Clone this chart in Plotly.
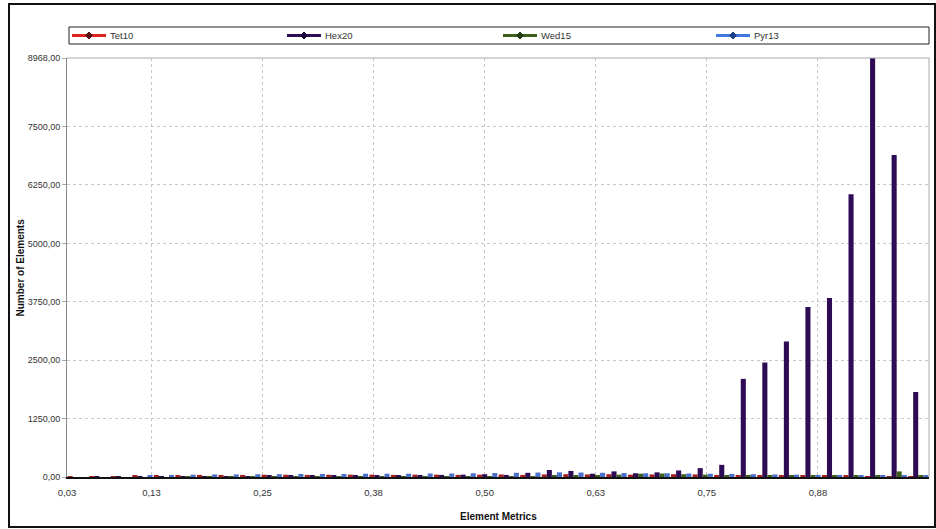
import numpy as np
import plotly.graph_objects as go

# Histogram of element quality metric, 40 bins between 0.03 and 1.00
bin_edges = np.linspace(0.03, 1.0, 41)
bin_centers = (bin_edges[:-1] + bin_edges[1:]) / 2

tet10 = [5, 8, 12, 35, 40, 42, 45, 45, 45, 48, 48, 45, 48, 50, 50, 45, 50, 50, 45, 50,
         55, 45, 55, 60, 55, 60, 50, 55, 60, 55, 45, 40, 35, 30, 25, 25, 25, 20, 20, 15]
hex20 = [0, 2, 5, 8, 10, 12, 15, 18, 20, 22, 25, 25, 28, 30, 30, 35, 40, 45, 50, 60,
         45, 90, 150, 130, 70, 120, 80, 100, 140, 190, 260, 2100, 2450, 2900, 3640, 3830,
         6050, 8968, 6890, 1820]
wed15 = [0, 0, 0, 0, 0, 2, 2, 3, 3, 5, 5, 5, 6, 8, 8, 10, 10, 12, 12, 15,
         15, 20, 25, 30, 40, 50, 70, 75, 60, 50, 40, 30, 35, 30, 25, 30, 35, 30, 120, 40]
pyr13 = [0, 0, 0, 25, 45, 50, 55, 55, 60, 60, 65, 65, 65, 70, 70, 70, 75, 75, 80, 85,
         90, 95, 100, 95, 90, 85, 80, 80, 75, 70, 65, 60, 55, 50, 45, 45, 40, 40, 35, 30]

series_names = ["Tet10", "Hex20", "Wed15", "Pyr13"]
series_values = [tet10, hex20, wed15, pyr13]
bar_colors = ["#a3201d", "#2e0b55", "#3d5f1c", "#4a70cc"]
legend_colors = ["#e0231c", "#2e0b55", "#3d5f1c", "#3f78e0"]
marker_colors = ["#5a0d10", "#1c0638", "#233a0e", "#1f3f90"]

y_ticks = [0, 1250, 2500, 3750, 5000, 6250, 7500, 8968]
y_ticktext = ["0,00", "1250,00", "2500,00", "3750,00", "5000,00", "6250,00", "7500,00", "8968,00"]
x_ticks = [0.03, 0.125, 0.25, 0.375, 0.5, 0.625, 0.75, 0.875, 1.0]
x_ticktext = ["0,03", "0,13", "0,25", "0,38", "0,50", "0,63", "0,75", "0,88", "1,00"]

W, H = 936, 529
L, R, T, B = 67, 929, 58, 477  # plot area in pixels


def px_x(p):
    return (p - L) / (R - L)


def px_y(p):
    return (B - p) / (B - T)


FONT = "Liberation Sans Narrow, Arial Narrow, Liberation Sans, Arial, sans-serif"

fig = go.Figure()
for name, vals, col in zip(series_names, series_values, bar_colors):
    fig.add_trace(go.Bar(x=bin_centers, y=vals, name=name, marker_color=col,
                         marker_line_width=0, showlegend=False))

shapes = [
    # outer frame
    dict(type="rect", xref="paper", yref="paper",
         x0=px_x(9), x1=px_x(935), y0=px_y(527), y1=px_y(4),
         line=dict(color="#111111", width=2), fillcolor="rgba(0,0,0,0)", layer="above"),
    # right and top plot border
    dict(type="line", xref="paper", yref="paper", x0=1, x1=1, y0=0, y1=1,
         line=dict(color="#aaaaaa", width=1)),
    dict(type="line", xref="paper", yref="paper", x0=0, x1=1, y0=1, y1=1,
         line=dict(color="#aaaaaa", width=1)),
    # legend box
    dict(type="rect", xref="paper", yref="paper",
         x0=px_x(69), x1=px_x(929), y0=px_y(44), y1=px_y(27),
         line=dict(color="#222222", width=1), fillcolor="white"),
]
annotations = [
    dict(text="<b>Number of Elements</b>", xref="paper", yref="paper",
         x=px_x(20), y=0.5, xanchor="center", yanchor="middle", textangle=-90, showarrow=False,
         font=dict(family=FONT, size=10, color="#111111")),
    dict(text="<b>Element Metrics</b>", xref="paper", yref="paper",
         x=px_x(498), y=px_y(516), xanchor="center", yanchor="middle", showarrow=False,
         font=dict(family=FONT, size=10, color="#111111")),
]

# legend entries: line with a diamond marker, followed by the series name
legend_x = [72, 287, 503, 716]
leg_y = 35.5
for name, col, mcol, lx in zip(series_names, legend_colors, marker_colors, legend_x):
    shapes.append(dict(type="line", xref="paper", yref="paper",
                       x0=px_x(lx), x1=px_x(lx + 34), y0=px_y(leg_y), y1=px_y(leg_y),
                       line=dict(color=col, width=3)))
    cx = lx + 17
    d = 3.5
    path = "M {},{} L {},{} L {},{} L {},{} Z".format(
        px_x(cx), px_y(leg_y - d), px_x(cx + d), px_y(leg_y),
        px_x(cx), px_y(leg_y + d), px_x(cx - d), px_y(leg_y))
    shapes.append(dict(type="path", xref="paper", yref="paper", path=path,
                       fillcolor=mcol, line=dict(color=mcol, width=1)))
    annotations.append(dict(text=name, xref="paper", yref="paper",
                            x=px_x(lx + 36), y=px_y(leg_y), xanchor="left", yanchor="middle",
                            showarrow=False, font=dict(family=FONT, size=9.5, color="#333333")))

fig.update_layout(
    width=W, height=H,
    margin=dict(l=L, r=W - R, t=T, b=H - B),
    paper_bgcolor="white", plot_bgcolor="white",
    barmode="group", bargap=0.06, bargroupgap=0.0,
    font=dict(family=FONT, size=10, color="#333333"),
    showlegend=False,
    xaxis=dict(range=[0.03, 1.0], tickvals=x_ticks, ticktext=x_ticktext,
               showgrid=True, gridcolor="#c8c8c8", griddash="dot", gridwidth=1,
               showline=True, linecolor="#111111", linewidth=2, mirror=False,
               ticks="", ticklabelstandoff=6, zeroline=False,
               tickfont=dict(size=9.5, color="#333333")),
    yaxis=dict(range=[0, 8968], tickvals=y_ticks, ticktext=y_ticktext,
               showgrid=True, gridcolor="#c8c8c8", griddash="dot", gridwidth=1,
               showline=True, linecolor="#888888", linewidth=1,
               ticks="outside", ticklen=4, tickcolor="#aaaaaa",
               zeroline=False, tickfont=dict(size=9, color="#333333")),
    shapes=shapes,
    annotations=annotations,
)

fig.write_html("out.html")
